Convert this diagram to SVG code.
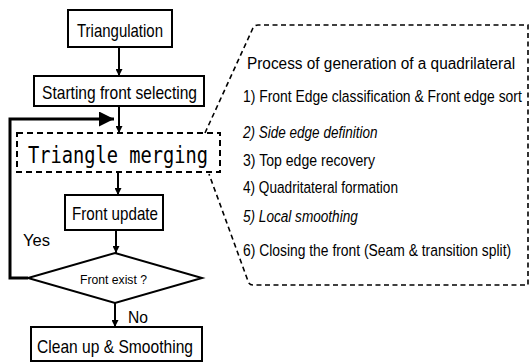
<svg xmlns="http://www.w3.org/2000/svg" width="532" height="362" viewBox="0 0 532 362">
<style>
.box{fill:#fff;stroke:#000;stroke-width:2}
.dash{fill:none;stroke:#000;stroke-width:2;stroke-dasharray:6 4}
.call{fill:none;stroke:#000;stroke-width:1.6;stroke-dasharray:5 3.5}
.t{font-family:"Liberation Sans",Arial,sans-serif;fill:#000}
.r{font-family:"Liberation Sans",Arial,sans-serif;fill:#000;font-size:17px}
.m{font-family:"DejaVu Sans Mono","Liberation Mono",monospace;fill:#000}
.ln{fill:none;stroke:#000;stroke-width:2}
.fb{fill:none;stroke:#000;stroke-width:3}
</style>
<defs>
<marker id="ah" viewBox="0 0 10 10" refX="10" refY="5" markerWidth="7" markerHeight="7" markerUnits="userSpaceOnUse" orient="auto">
<path d="M0,0 L10,5 L0,10 z" fill="#000"/>
</marker>
<marker id="ah2" viewBox="0 0 10 10" refX="10" refY="5" markerWidth="5" markerHeight="5" orient="auto">
<path d="M0,0 L10,5 L0,10 z" fill="#000"/>
</marker>
</defs>
<rect width="532" height="362" fill="#fff"/>
<g id="connectors">
<line class="ln" x1="119" y1="47" x2="119" y2="76" marker-end="url(#ah)"/>
<line class="ln" x1="119" y1="106" x2="119" y2="133" marker-end="url(#ah)"/>
<line class="ln" x1="118" y1="172" x2="118" y2="195" marker-end="url(#ah)"/>
<line class="ln" x1="116" y1="230" x2="116" y2="253" marker-end="url(#ah)"/>
<line class="ln" x1="115" y1="303" x2="115" y2="327" marker-end="url(#ah)"/>
<polyline class="fb" points="28,278 10,278 10,119 114,119" marker-end="url(#ah2)"/>
<path class="call" d="M205,133 L253,28 Q255,25 258,25 L528,25 L528,285 L253,285 Q249,285 248,281 L209,174"/>
</g>
<g id="n-triangulation">
<rect class="box" x="68" y="10" width="104" height="37"/>
<text class="t" x="77" y="37" font-size="19" textLength="86" lengthAdjust="spacingAndGlyphs">Triangulation</text>
</g>
<g id="n-starting">
<rect class="box" x="34" y="76" width="170" height="30"/>
<text class="t" x="42" y="99" font-size="19" textLength="155" lengthAdjust="spacingAndGlyphs">Starting front selecting</text>
</g>
<g id="n-merging">
<rect class="dash" x="17" y="133" width="203" height="39"/>
<text class="m" x="28" y="163" font-size="23" textLength="180" lengthAdjust="spacingAndGlyphs">Triangle merging</text>
</g>
<g id="n-update">
<rect class="box" x="65" y="195" width="98" height="35"/>
<text class="t" x="72" y="220" font-size="19" textLength="86" lengthAdjust="spacingAndGlyphs">Front update</text>
</g>
<g id="n-decision">
<polygon class="box" points="115,253 202,278 115,303 28,278" stroke-width="1.5"/>
<text class="t" x="80" y="284" font-size="13" textLength="67" lengthAdjust="spacingAndGlyphs">Front exist ?</text>
</g>
<g id="n-clean">
<rect class="box" x="31" y="327" width="171" height="34"/>
<text class="t" x="37" y="353" font-size="19" textLength="156" lengthAdjust="spacingAndGlyphs">Clean up &amp; Smoothing</text>
</g>
<g id="labels">
<text class="t" x="23" y="246" font-size="16" textLength="27" lengthAdjust="spacingAndGlyphs">Yes</text>
<text class="t" x="128" y="323" font-size="16" textLength="20" lengthAdjust="spacingAndGlyphs">No</text>
</g>
<g id="n-process">
<text class="r" transform="translate(247,69) scale(0.82,1)" style="font-size:16px" textLength="327" lengthAdjust="spacingAndGlyphs">Process of generation of a quadrilateral</text>
<text class="r" transform="translate(243,102) scale(0.82,1)" textLength="340" lengthAdjust="spacingAndGlyphs">1) Front Edge classification &amp; Front edge sort</text>
<text class="r" transform="translate(243,138) scale(0.82,1)" font-style="italic" textLength="164" lengthAdjust="spacingAndGlyphs">2) Side edge definition</text>
<text class="r" transform="translate(243,166) scale(0.82,1)" textLength="161" lengthAdjust="spacingAndGlyphs">3) Top edge recovery</text>
<text class="r" transform="translate(243,193) scale(0.82,1)" textLength="189" lengthAdjust="spacingAndGlyphs">4) Quadritateral formation</text>
<text class="r" transform="translate(243,222) scale(0.82,1)" font-style="italic" textLength="140" lengthAdjust="spacingAndGlyphs">5) Local smoothing</text>
<text class="r" transform="translate(243,256) scale(0.82,1)" textLength="327" lengthAdjust="spacingAndGlyphs">6) Closing the front (Seam &amp; transition split)</text>
</g>
</svg>
